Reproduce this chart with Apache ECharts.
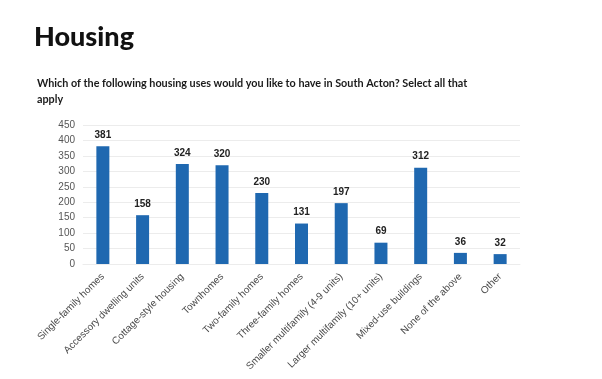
<!DOCTYPE html>
<html>
<head>
<meta charset="utf-8">
<script src="https://cdn.jsdelivr.net/npm/echarts@6/dist/echarts.min.js"></script>
<style>
html,body{margin:0;padding:0;background:#fff;}
#chart{width:602px;height:379px;}
</style>
</head>
<body>
<div id="chart"></div>
<script>
// Survey answers: housing uses residents would like in South Acton
const categories = [
  'Single-family homes',
  'Accessory dwelling units',
  'Cottage-style housing',
  'Townhomes',
  'Two-family homes',
  'Three-family homes',
  'Smaller multifamily (4-9 units)',
  'Larger multifamily (10+ units)',
  'Mixed-use buildings',
  'None of the above',
  'Other'
];
const responses = [381, 158, 324, 320, 230, 131, 197, 69, 312, 36, 32];
const yTicks = [0, 50, 100, 150, 200, 250, 300, 350, 400, 450];

const chart = echarts.init(document.getElementById('chart'), null, {renderer: 'canvas'});
chart.setOption({
  animation: false,
  backgroundColor: '#ffffff',
  title: [
    {
      text: 'Housing',
      left: 29, top: 19,
      textStyle: {fontFamily: 'Lato', fontWeight: 900, fontSize: 27, color: '#111'}
    },
    {
      text: 'Which of the following housing uses would you like to have in South Acton? Select all that\napply',
      left: 32, top: 71,
      textStyle: {fontFamily: 'Lato', fontWeight: 'bold', fontSize: 10.8, lineHeight: 16, color: '#1a1a1a'}
    }
  ],
  grid: {left: 83, right: 82, top: 125, bottom: 115, containLabel: false},
  xAxis: {
    type: 'category',
    data: categories,
    axisLine: {show: true, lineStyle: {color: '#ececec'}},
    axisTick: {show: false},
    axisLabel: {
      interval: 0, rotate: 45, margin: 11,
      fontFamily: 'Liberation Sans', fontSize: 10, color: '#4a4a4a'
    }
  },
  yAxis: {
    type: 'value',
    min: yTicks[0], max: yTicks[yTicks.length - 1], interval: 50,
    axisLine: {show: false},
    axisTick: {show: false},
    splitLine: {lineStyle: {color: '#ececec', width: 1}},
    axisLabel: {fontFamily: 'Liberation Sans', fontSize: 10, color: '#555', margin: 8}
  },
  series: [{
    type: 'bar',
    data: responses,
    barWidth: 13,
    itemStyle: {color: '#1f68b0'},
    label: {
      show: true, position: 'top', distance: 6,
      fontFamily: 'Liberation Sans', fontWeight: 'bold', fontSize: 10, color: '#222'
    }
  }]
});
</script>
</body>
</html>
